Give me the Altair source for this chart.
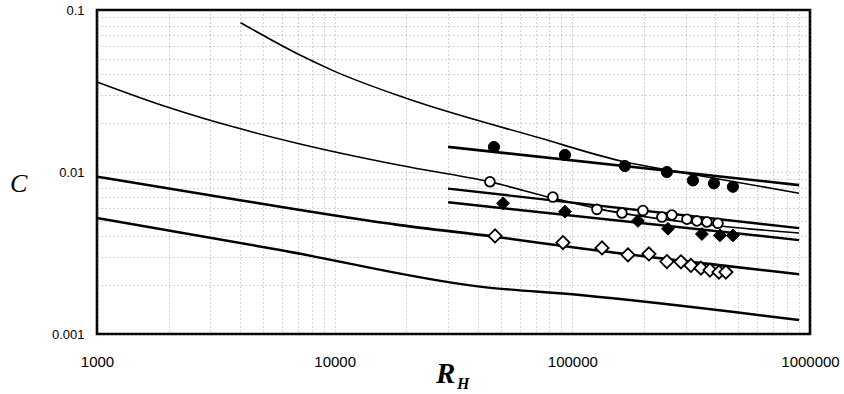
import altair as alt
import pandas as pd

# ---- curves ----
curve1_x = [4020, 7145, 10000, 20000, 73100, 163700, 291900, 900000]
curve1_y = [0.0835, 0.0527, 0.0418, 0.0285, 0.0162, 0.0116, 0.0099, 0.0074]

curve2_x = [1000, 1960, 3740, 7150, 18800, 44900, 82800, 130600, 300000, 900000]
curve2_y = [0.036, 0.0253, 0.019, 0.0149, 0.011, 0.0087, 0.0069, 0.0059, 0.0049, 0.0042]

curve3_x = [1000, 4000, 5890, 18800, 46400, 107700, 900000]
curve3_y = [0.00935, 0.0067, 0.0061, 0.0047, 0.0040, 0.00338, 0.00234]

curve4_x = [1000, 5890, 40800, 107700, 900000]
curve4_y = [0.0052, 0.0033, 0.00196, 0.00174, 0.00122]

fit_x = [30000, 900000]
fit_fc_y = [0.0143, 0.0083]
fit_oc_y = [0.0079, 0.0045]
fit_fd_y = [0.0065, 0.0038]

# ---- measured points ----
fc_x = [46800, 93100, 166400, 250000, 321700, 394400, 474000]
fc_y = [0.01426, 0.01274, 0.01089, 0.0100, 0.00887, 0.00851, 0.00811]

oc_x = [45000, 82800, 126900, 161700, 198200, 238200, 262400, 303400, 334300, 368300, 409900]
oc_y = [0.0087, 0.0070, 0.00588, 0.00558, 0.00578, 0.00527, 0.00543, 0.00511, 0.00499, 0.00491, 0.00482]

fd_x = [51100, 93100, 188800, 252600, 350900, 417800, 474000]
fd_y = [0.00641, 0.00569, 0.00499, 0.00446, 0.00414, 0.00406, 0.00406]

od_x = [47300, 91300, 133300, 171400, 210000, 250000, 286400, 315500, 347500, 379300, 413900, 442700]
od_y = [0.00403, 0.00367, 0.0034, 0.00308, 0.00312, 0.0028, 0.00279, 0.00265, 0.00255, 0.00248, 0.00241, 0.00241]

x_ticks = [m * 10 ** e for e in (3, 4, 5) for m in range(1, 10)] + [1000000]
y_ticks = [round(m * 10.0 ** e, 6) for e in (-3, -2) for m in range(1, 10)] + [0.1]

xscale = alt.Scale(type="log", domain=[1000, 1000000], nice=False)
yscale = alt.Scale(type="log", domain=[0.001, 0.1], nice=False)

xaxis = alt.Axis(values=x_ticks, format="d", title=None, domain=False, ticks=False,
                 labelExpr="(datum.value==1000||datum.value==10000||datum.value==100000||datum.value==1000000) ? datum.label : ''",
                 labelFlush=False, labelOverlap=False, labelPadding=20,
                 labelFont="Liberation Sans", labelFontSize=15, labelColor="black",
                 grid=True, gridColor="#666", gridDash=[1, 3], gridWidth=0.8, gridOpacity=0.7)
yaxis = alt.Axis(values=y_ticks, format="~g", title=None, domain=False, ticks=False,
                 labelExpr="(datum.value==0.001||datum.value==0.01||datum.value==0.1) ? datum.label : ''",
                 labelFlush=False, labelOverlap=False, labelPadding=13,
                 labelFont="Liberation Sans", labelFontSize=13, labelColor="black",
                 grid=True, gridColor="#666", gridDash=[1, 3], gridWidth=0.8, gridOpacity=0.7)

X = alt.X("x:Q", scale=xscale, axis=xaxis)
Y = alt.Y("y:Q", scale=yscale, axis=yaxis)


def line(xs, ys, width, interp="linear"):
    df = pd.DataFrame({"x": xs, "y": ys})
    return alt.Chart(df).mark_line(color="black", strokeWidth=width, interpolate=interp).encode(x=X, y=Y)


def pts(xs, ys, shape, size, filled):
    df = pd.DataFrame({"x": xs, "y": ys})
    if filled:
        m = alt.Chart(df).mark_point(shape=shape, size=size, filled=True, fill="black",
                                     stroke="black", strokeWidth=1, opacity=1)
    else:
        m = alt.Chart(df).mark_point(shape=shape, size=size, filled=True, fill="white",
                                     stroke="black", strokeWidth=1.8, opacity=1)
    return m.encode(x=X, y=Y)


def label(text, x, y, size, style, weight="normal", align="left"):
    return alt.Chart(pd.DataFrame({"t": [text]})).mark_text(
        font="Liberation Serif", fontSize=size, fontStyle=style, fontWeight=weight,
        align=align, baseline="alphabetic", color="black"
    ).encode(text="t:N", x=alt.value(x), y=alt.value(y))


chart = alt.layer(
    line(curve1_x, curve1_y, 1.6, "monotone"),
    line(curve2_x, curve2_y, 1.6, "monotone"),
    line(curve3_x, curve3_y, 2.6, "monotone"),
    line(curve4_x, curve4_y, 2.4, "monotone"),
    line(fit_x, fit_fc_y, 2.6),
    line(fit_x, fit_oc_y, 2.4),
    line(fit_x, fit_fd_y, 2.4),
    pts(fc_x, fc_y, "circle", 125, True),
    pts(oc_x, oc_y, "circle", 95, False),
    pts(fd_x, fd_y, "diamond", 165, True),
    pts(od_x, od_y, "diamond", 175, False),
    label("C", -87, 182, 26, "italic"),
    label("R", 339, 373, 29, "italic", "bold"),
    label("H", 360, 379, 16, "italic", "bold"),
).properties(
    width=713, height=324,
    autosize=alt.AutoSizeParams(type="none"),
    padding={"left": 97, "top": 10, "right": 34, "bottom": 60},
    background="white",
).configure_view(stroke="black", strokeWidth=2.6)

chart.save("out.html", embed_options={"renderer": "svg", "actions": False})
